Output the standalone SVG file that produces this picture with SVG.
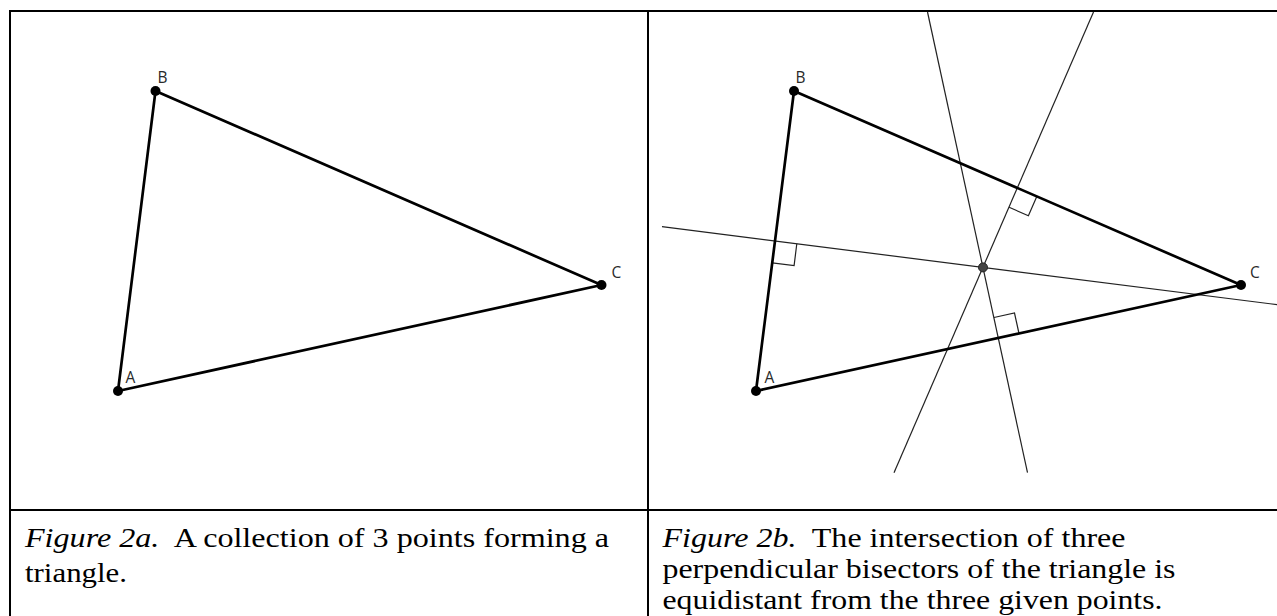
<svg xmlns="http://www.w3.org/2000/svg" width="1277" height="616" viewBox="0 0 1277 616">
<style>
.tbl{stroke:#000;stroke-width:2;fill:none}
.side{stroke:#000;stroke-width:2.7;stroke-linecap:round;fill:none}
.bis{stroke:#222;stroke-width:1.2;fill:none}
.ra{stroke:#222;stroke-width:1.2;fill:none}
.pt{fill:#000}
.cc{fill:#444;stroke:#222;stroke-width:1}
.lbl{font-family:"Open Sans","DejaVu Sans",sans-serif;font-size:15.5px;fill:#2a2a2a;text-anchor:middle}
.cap{font-family:"Liberation Serif","Times New Roman",serif;font-size:28px;fill:#000;white-space:pre}
.it{font-style:italic}
</style>
<rect width="1277" height="616" fill="#fff"/>
<g id="table">
<line class="tbl" x1="9" y1="11" x2="1277" y2="11"/>
<line class="tbl" x1="10" y1="10" x2="10" y2="616"/>
<line class="tbl" x1="648" y1="10" x2="648" y2="616"/>
<line class="tbl" x1="9" y1="510" x2="1277" y2="510"/>
</g>
<g id="fig2a">
<g id="connectors-a">
<line class="side" x1="118" y1="391" x2="155.5" y2="91"/>
<line class="side" x1="155.5" y1="91" x2="601.5" y2="285"/>
<line class="side" x1="601.5" y1="285" x2="118" y2="391"/>
</g>
<g id="a-A"><circle class="pt" cx="118" cy="391" r="5"/><text class="lbl" x="130.5" y="383">A</text></g>
<g id="a-B"><circle class="pt" cx="155.5" cy="91" r="5"/><text class="lbl" x="162.5" y="83">B</text></g>
<g id="a-C"><circle class="pt" cx="601.5" cy="285" r="5"/><text class="lbl" x="616.5" y="278">C</text></g>
</g>
<g id="fig2b">
<g id="connectors-b">
<line class="bis" x1="662" y1="226.7" x2="1280" y2="305"/>
<line class="bis" x1="1093.5" y1="12" x2="894" y2="472.7"/>
<line class="bis" x1="927.5" y1="12" x2="1027.5" y2="472.7"/>
<polyline class="ra" points="796.8,243.8 794.1,265.6 772.2,262.8"/>
<polyline class="ra" points="1036.8,196.4 1028.4,215.7 1009.1,207.3"/>
<polyline class="ra" points="1019.0,333.5 1014.5,313.0 994.0,317.5"/>
<line class="side" x1="756" y1="391" x2="794" y2="91"/>
<line class="side" x1="794" y1="91" x2="1241" y2="285"/>
<line class="side" x1="1241" y1="285" x2="756" y2="391"/>
</g>
<g id="b-A"><circle class="pt" cx="756" cy="391" r="5"/><text class="lbl" x="769.5" y="383">A</text></g>
<g id="b-B"><circle class="pt" cx="794" cy="91" r="5"/><text class="lbl" x="800.5" y="83">B</text></g>
<g id="b-C"><circle class="pt" cx="1241" cy="285" r="5"/><text class="lbl" x="1255" y="278">C</text></g>
<g id="b-O"><circle class="cc" cx="983" cy="267.4" r="4.5"/></g>
</g>
<g id="captions">
<text class="cap" x="25" y="547" textLength="584" lengthAdjust="spacingAndGlyphs"><tspan class="it">Figure 2a.</tspan>  A collection of 3 points forming a</text>
<text class="cap" x="25" y="582" textLength="102" lengthAdjust="spacingAndGlyphs">triangle.</text>
<text class="cap" x="662.5" y="547" textLength="463" lengthAdjust="spacingAndGlyphs"><tspan class="it">Figure 2b.</tspan>  The intersection of three</text>
<text class="cap" x="662.5" y="578" textLength="513" lengthAdjust="spacingAndGlyphs">perpendicular bisectors of the triangle is</text>
<text class="cap" x="662.5" y="609" textLength="500" lengthAdjust="spacingAndGlyphs">equidistant from the three given points.</text>
</g>
</svg>
